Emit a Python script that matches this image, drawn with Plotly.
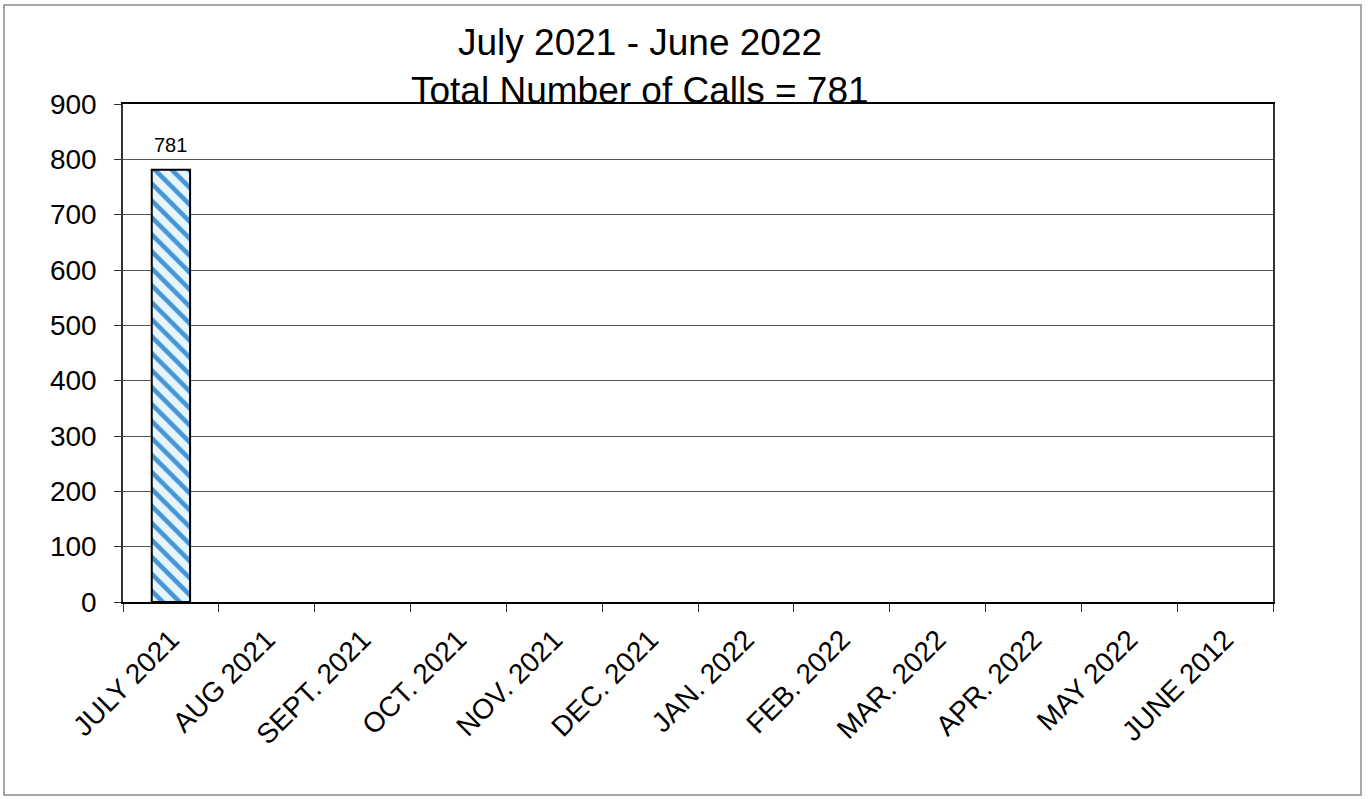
import plotly.graph_objects as go

# Monthly call counts, fiscal year July 2021 - June 2022
months = ["JULY 2021", "AUG 2021", "SEPT. 2021", "OCT. 2021", "NOV. 2021", "DEC. 2021",
          "JAN. 2022", "FEB. 2022", "MAR. 2022", "APR. 2022", "MAY 2022", "JUNE 2012"]
calls = [781, None, None, None, None, None, None, None, None, None, None, None]
y_ticks = [0, 100, 200, 300, 400, 500, 600, 700, 800, 900]

total_calls = sum(c for c in calls if c is not None)

W, H = 1370, 799
L, R, T, B = 123, 97, 104, 197
FONT = "Liberation Sans, Arial, sans-serif"

fig = go.Figure()
fig.add_trace(go.Bar(
    x=months,
    y=calls,
    width=0.4,
    marker=dict(
        color="#e3f2fb",
        line=dict(color="black", width=2),
        pattern=dict(shape="\\", fgcolor="#4596d6", bgcolor="#e6f4fc",
                     size=12, solidity=0.38, fillmode="replace"),
    ),
    showlegend=False,
))

# value labels above the bars
for m, v in zip(months, calls):
    if v is not None:
        fig.add_annotation(x=m, y=v, text=str(v), showarrow=False,
                           yanchor="bottom", yshift=12,
                           font=dict(family=FONT, size=20, color="black"))

# two-line chart title
pw = W - L - R
ph = H - T - B
title_x = (640 - L) / pw
fig.add_annotation(xref="paper", yref="paper", x=title_x, y=(H - B - 65) / ph,
                   text="July 2021 - June 2022", showarrow=False,
                   xanchor="center", yanchor="bottom",
                   font=dict(family=FONT, size=37, color="black"))
fig.add_annotation(xref="paper", yref="paper", x=title_x, y=(H - B - 113) / ph,
                   text=f"Total Number of Calls = {total_calls}", showarrow=False,
                   xanchor="center", yanchor="bottom",
                   font=dict(family=FONT, size=37, color="black"))

# outer chart frame
fig.add_shape(type="rect", xref="paper", yref="paper",
              x0=(4 - L) / pw, x1=(1361 - L) / pw,
              y0=(H - B - 795) / ph, y1=(H - B - 5) / ph,
              line=dict(color="#8a8a8a", width=1.5), layer="below")

fig.update_layout(
    width=W, height=H,
    margin=dict(l=L, r=R, t=T, b=B),
    paper_bgcolor="white",
    plot_bgcolor="white",
    font=dict(family=FONT, color="black"),
    bargap=0.6,
)
fig.update_xaxes(
    type="category",
    tickangle=-45,
    tickfont=dict(family=FONT, size=28, color="black"),
    ticks="outside", ticklen=8, tickcolor="#333", tickwidth=1,
    tickson="boundaries",
    ticklabelstandoff=8,
    showline=True, linecolor="black", linewidth=2, mirror=True,
    showgrid=False,
)
fig.update_yaxes(
    range=[0, 900],
    tickvals=y_ticks,
    tickfont=dict(family=FONT, size=28, color="black"),
    ticks="outside", ticklen=7, tickcolor="#333", tickwidth=1,
    ticklabelstandoff=12,
    showline=True, linecolor="#333", linewidth=1.5, mirror=True,
    showgrid=True, gridcolor="#555", gridwidth=1,
    zeroline=False,
)

fig.write_html("out.html")
